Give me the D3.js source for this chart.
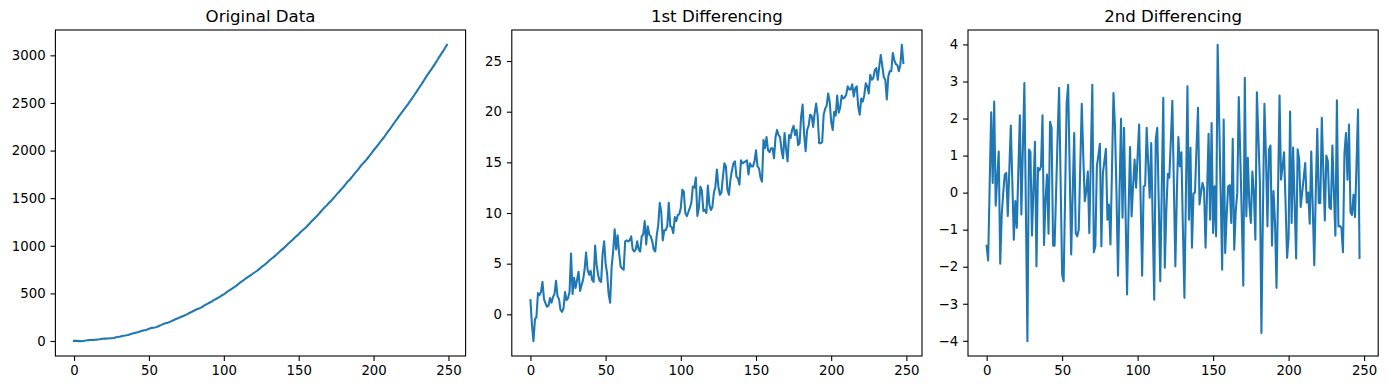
<!DOCTYPE html>
<html><head><meta charset="utf-8">
<script src="https://cdn.jsdelivr.net/npm/d3@7"></script>
<style>
body{margin:0;background:#fff}
text{font-family:"DejaVu Sans",sans-serif;fill:#000}
</style>
</head><body>
<svg id="c" width="1387" height="390"></svg>
<script>
const titles = ["Original Data", "1st Differencing", "2nd Differencing"];
const xTicks = [0, 50, 100, 150, 200, 250];
const yTicksOriginal = [0, 500, 1000, 1500, 2000, 2500, 3000];
const yTicksDiff1 = [0, 5, 10, 15, 20, 25];
const yTicksDiff2 = [-4, -3, -2, -1, 0, 1, 2, 3, 4];

// first value of the original series (read at x = 0)
const originalStart = 1;

// 1st differencing (x = 0..248)
const diff1 = [
1.4,-1.0,-2.65,-0.5,-0.25,2.1,1.9,2.2,3.2,1.5,
1.1,0.75,0.85,1.6,1.15,1.7,2.0,3.3,1.8,1.5,
0.45,0.25,0.6,2.2,1.4,1.6,2.2,6.0,2.0,3.6,
2.6,3.4,4.2,2.3,2.9,3.4,4.4,6.1,4.4,3.9,
4.3,3.4,3.2,6.8,4.9,3.9,3.3,3.2,6.0,7.2,
5.0,4.0,2.0,1.15,4.7,6.2,8.4,6.4,7.8,6.0,
4.7,4.5,4.4,7.2,7.3,7.2,7.3,7.7,6.4,6.2,
6.4,7.2,6.4,6.2,7.7,7.9,9.2,6.9,8.7,7.9,
7.7,7.2,6.4,6.2,7.8,8.8,11.0,10.1,7.3,8.3,
8.3,8.7,11.0,8.7,8.6,8.0,9.6,9.2,9.8,9.9,
10.5,12.3,12.1,10.0,9.7,10.1,10.5,11.0,12.6,12.5,
13.5,9.7,10.5,12.6,12.2,10.2,10.3,10.0,12.7,10.8,
10.3,10.6,12.0,12.6,14.3,12.6,11.8,12.0,13.6,14.9,
14.6,12.3,11.8,13.3,14.2,14.9,15.1,13.6,13.4,12.8,
15.2,14.9,15.0,15.1,15.2,13.8,14.9,14.6,14.6,15.1,
16.2,14.6,14.4,13.5,13.1,17.2,16.4,17.5,16.2,16.0,
16.4,16.4,15.4,17.5,18.2,17.7,17.5,16.2,15.4,17.9,
16.3,15.1,17.7,17.4,18.2,18.6,17.7,18.2,16.7,16.9,
19.5,20.7,17.8,16.1,18.2,18.6,19.7,19.6,18.5,19.8,
20.8,19.6,16.9,16.9,17.0,19.7,20.3,20.6,21.8,21.0,
19.0,18.2,20.0,19.6,21.6,19.9,20.4,21.6,21.3,21.4,
21.7,22.5,22.2,22.2,22.7,21.5,22.3,22.5,20.5,19.7,
21.3,21.0,21.6,22.8,22.5,21.8,23.65,23.15,23.3,24.1,
24.3,23.15,24.5,25.6,24.5,23.4,23.15,21.2,23.5,24.0,
24.0,25.8,25.1,24.7,24.6,24.0,24.6,26.6,24.8
];

// 2nd differencing (x = 0..247)
const diff2 = [
-1.43,-1.83,0.2,2.17,0.26,2.46,-0.35,0.4,1.11,-1.92,
-0.59,0.0,0.49,0.53,-0.63,0.6,1.81,0.3,-1.27,-0.23,
-0.95,0.6,2.09,-0.59,1.2,2.96,-0.5,-4.01,1.16,1.1,
-1.16,0.1,1.37,-1.99,0.67,0.6,0.7,2.09,-1.41,-0.2,
0.49,-1.11,1.91,1.75,-1.43,-1.43,0.0,1.5,2.83,0.3,
-2.21,-2.39,0.0,2.42,2.91,0.6,-1.67,0.0,1.61,-1.09,
-1.18,-1.0,0.7,2.40,1.0,-0.23,0.04,0.57,-1.09,0.9,
2.91,-1.61,-1.45,0.71,1.0,1.32,-1.45,0.53,0.85,1.18,
-0.73,-0.32,-1.40,0.6,2.69,1.79,0.0,-2.24,0.0,1.99,
-0.68,1.75,-0.5,-2.75,-0.5,1.23,-0.64,0.17,0.89,0.13,
1.0,1.84,-0.2,-2.24,0.17,0.19,1.75,0.8,-0.14,1.34,
-0.8,-2.89,1.43,1.75,-0.3,-2.39,0.1,2.56,-2.03,-0.5,
0.51,0.4,1.4,2.48,0.2,-1.99,0.0,1.50,0.71,1.09,
-1.0,-2.84,0.0,2.87,-0.73,1.21,-1.49,-0.03,0.01,1.2,
2.29,-0.32,0.0,0.26,0.1,-1.49,0.0,1.59,-0.73,1.88,
-1.09,0.17,-1.18,3.99,2.0,0.0,-2.08,1.97,-1.63,-0.6,
0.17,0.2,-0.82,1.45,-1.54,-0.5,0.0,2.58,1.0,-0.64,
-2.51,3.10,-0.64,0.94,-0.3,-0.82,0.57,0.0,-1.27,2.71,
1.5,0.26,-3.79,-0.5,2.40,0.98,-0.91,1.16,1.27,-1.43,
0.04,-0.8,-2.57,0.0,2.62,0.35,0.7,1.09,-0.3,-1.76,
-1.2,2.19,-0.82,1.22,-0.3,-1.78,1.17,0.9,-0.39,0.0,
0.4,0.80,-0.27,0.0,-0.84,1.11,-0.4,-1.96,0.0,1.72,
-0.28,-0.28,2.02,0.6,-0.75,1.0,0.85,-0.4,-0.44,1.27,
0.0,-1.16,2.49,-0.91,-0.9,-0.95,-1.61,1.07,1.61,0.35,
1.84,-0.53,-0.6,-0.05,-0.66,0.8,2.24,-1.76
];

// the original series is rebuilt from its read first differences
const original = [originalStart].concat(Array.from(d3.cumsum(diff1), v => v + originalStart));

const series = [original, diff1, diff2];
const yTickSets = [yTicksOriginal, yTicksDiff1, yTicksDiff2];

// layout
const panelLeft = [55.4, 511.8, 968.0];
const panelW = 410.2, plotTop = 30, plotBottom = 356;
const tickLen = 4.9, tickPad = 4.9, fontSize = 13.3;
const lineColor = "#1f77b4";

const svg = d3.select("#c");
const fmt = v => (v < 0 ? "\u2212" + Math.abs(v) : String(v));

series.forEach((data, k) => {
  const n = data.length;
  const x0 = panelLeft[k], x1 = x0 + panelW;
  const xPad = 0.05 * (n - 1);
  const x = d3.scaleLinear().domain([-xPad, (n - 1) + xPad]).range([x0, x1]);
  const [mn, mx] = d3.extent(data);
  const yPad = 0.05 * (mx - mn);
  const y = d3.scaleLinear().domain([mn - yPad, mx + yPad]).range([plotBottom, plotTop]);

  const g = svg.append("g");

  g.append("path")
    .datum(data)
    .attr("fill", "none")
    .attr("stroke", lineColor)
    .attr("stroke-width", 2.08)
    .attr("stroke-linejoin", "round")
    .attr("stroke-linecap", "square")
    .attr("d", d3.line().x((d, i) => x(i)).y(d => y(d)));

  g.append("rect")
    .attr("x", x0).attr("y", plotTop)
    .attr("width", panelW).attr("height", plotBottom - plotTop)
    .attr("fill", "none").attr("stroke", "#000").attr("stroke-width", 1.1);

  const xa = g.append("g").attr("transform", `translate(0,${plotBottom})`)
    .call(d3.axisBottom(x).tickValues(xTicks).tickSize(tickLen).tickPadding(tickPad).tickFormat(fmt));
  xa.select(".domain").remove();
  xa.selectAll("line").attr("stroke", "#000").attr("stroke-width", 1.1);
  xa.selectAll("text").attr("font-size", fontSize).attr("font-family", "DejaVu Sans").attr("fill", "#000");

  const ya = g.append("g").attr("transform", `translate(${x0},0)`)
    .call(d3.axisLeft(y).tickValues(yTickSets[k]).tickSize(tickLen).tickPadding(tickPad).tickFormat(fmt));
  ya.select(".domain").remove();
  ya.selectAll("line").attr("stroke", "#000").attr("stroke-width", 1.1);
  ya.selectAll("text").attr("font-size", fontSize).attr("font-family", "DejaVu Sans").attr("fill", "#000");

  g.append("text")
    .attr("x", (x0 + x1) / 2).attr("y", 21.5)
    .attr("text-anchor", "middle")
    .attr("font-size", 16.6)
    .text(titles[k]);
});
</script>
</body></html>
